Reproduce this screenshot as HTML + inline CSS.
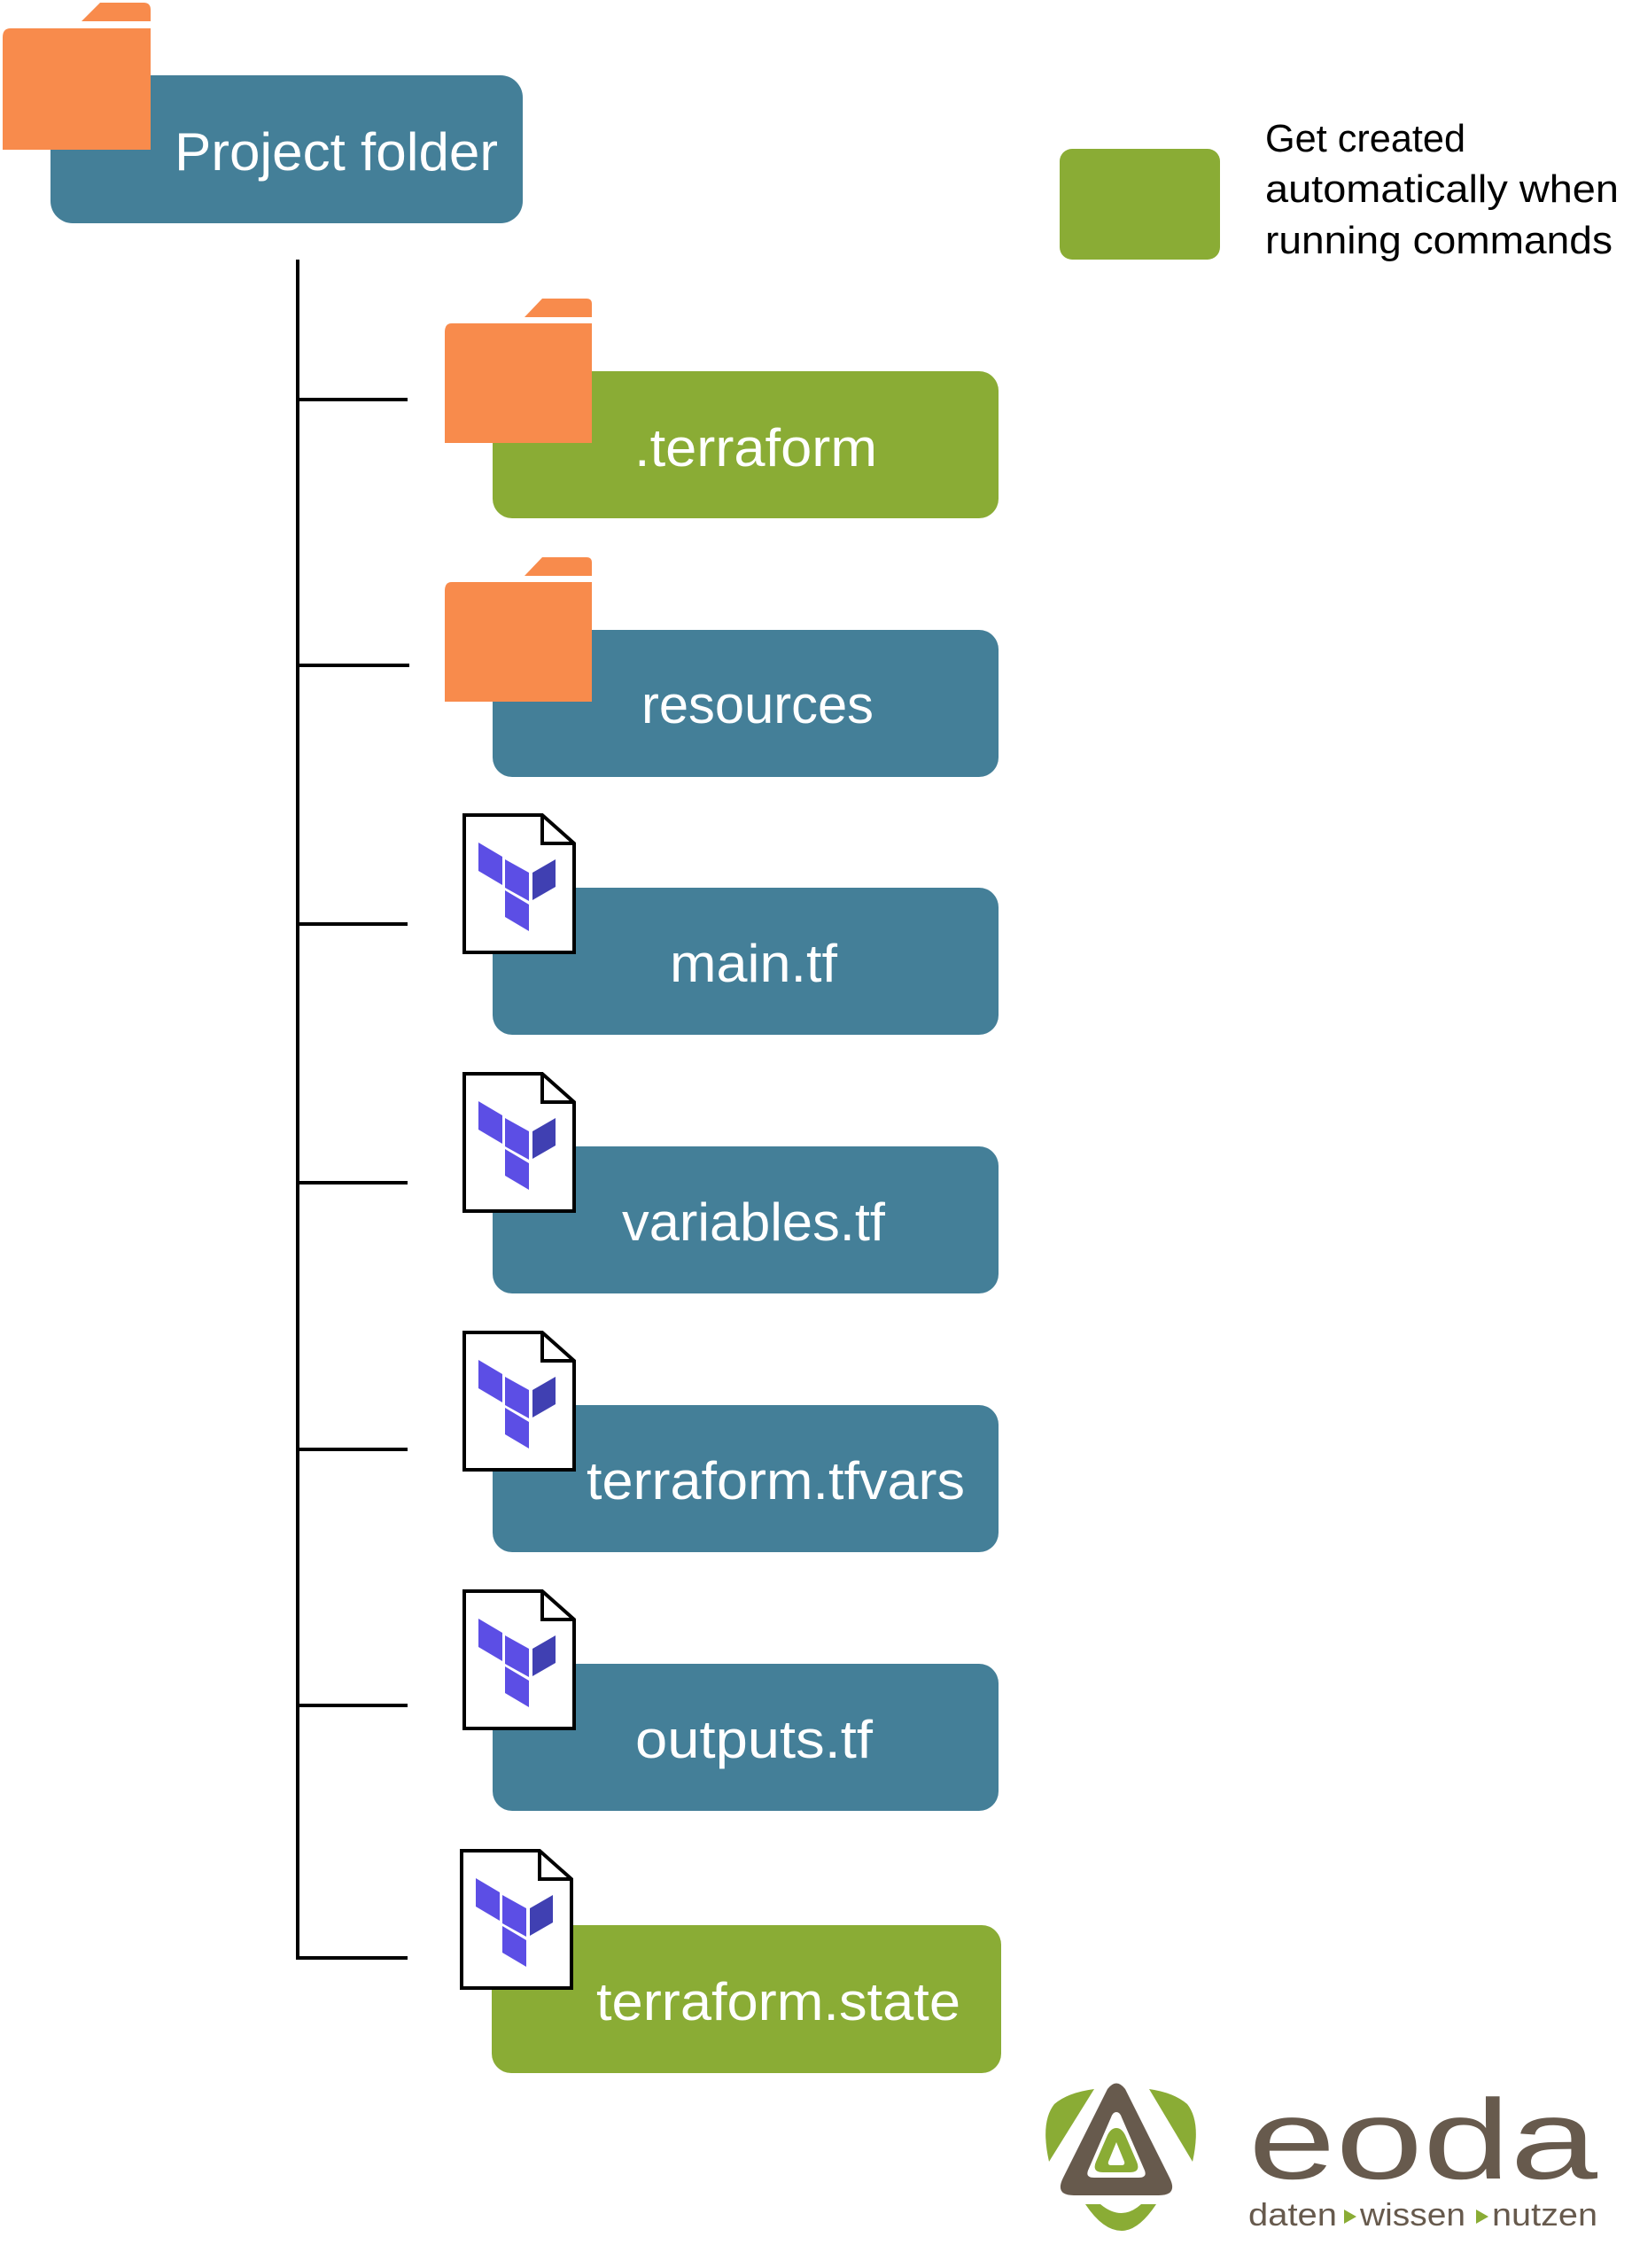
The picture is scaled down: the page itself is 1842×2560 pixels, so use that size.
<!DOCTYPE html>
<html><head><meta charset="utf-8"><style>
html,body{margin:0;padding:0;background:#fff;}
svg{display:block;}
text{font-family:"Liberation Sans",sans-serif;}
</style></head><body>
<svg width="1842" height="2560" viewBox="0 0 1842 2560" xmlns="http://www.w3.org/2000/svg">
<defs>
<g id="tf">
<polygon points="18,33 45,49 45,81 18,65" fill="#5C4EE5"/>
<polygon points="48,52 75,67 75,99 48,84" fill="#5C4EE5"/>
<polygon points="79,67 105,52 105,83 79,98" fill="#4040B2"/>
<polygon points="48,87 75,103 75,133 48,117" fill="#5C4EE5"/>
</g>
<g id="file">
<path d="M2,2 H90 L126,34 V157 H2 Z" fill="#fff" stroke="#000" stroke-width="4"/>
<path d="M90,2 V34 H126" fill="none" stroke="#000" stroke-width="4"/>
<use href="#tf"/>
</g>
<g id="folder">
<path d="M0,29 Q0,19 8,19 H166 V154 H0 Z" fill="#F88B4C"/>
<path d="M90,12 L110,-9 H160 Q166,-9 166,-3 V12 Z" fill="#F88B4C"/>
</g>
</defs>

<rect x="57" y="85" width="533" height="167" rx="25" fill="#447F98"/>
<path d="M3,42 Q3,32 12,32 H170 V169 H3 Z" fill="#F88B4C"/>
<path d="M92,24 L113,3 H162 Q170,3 170,11 V24 Z" fill="#F88B4C"/>
<text x="197" y="192" font-size="60" fill="#fff" textLength="365" lengthAdjust="spacingAndGlyphs">Project folder</text>

<rect x="1196" y="168" width="181" height="125" rx="14" fill="#8AAC35"/>
<text x="1428" y="171" font-size="44" fill="#000" textLength="226" lengthAdjust="spacingAndGlyphs">Get created</text>
<text x="1428" y="228" font-size="44" fill="#000" textLength="399" lengthAdjust="spacingAndGlyphs">automatically when</text>
<text x="1428" y="286" font-size="44" fill="#000" textLength="392" lengthAdjust="spacingAndGlyphs">running commands</text>

<line x1="336" y1="293" x2="336" y2="2212" stroke="#000" stroke-width="4"/>
<g stroke="#000" stroke-width="4">
<line x1="334" y1="451" x2="460" y2="451"/>
<line x1="334" y1="751" x2="462" y2="751"/>
<line x1="334" y1="1043" x2="460" y2="1043"/>
<line x1="334" y1="1335" x2="460" y2="1335"/>
<line x1="334" y1="1636" x2="460" y2="1636"/>
<line x1="334" y1="1925" x2="460" y2="1925"/>
<line x1="334" y1="2210" x2="460" y2="2210"/>
</g>

<rect x="556" y="419" width="571" height="166" rx="22" fill="#8AAC35"/>
<rect x="556" y="711" width="571" height="166" rx="22" fill="#447F98"/>
<rect x="556" y="1002" width="571" height="166" rx="22" fill="#447F98"/>
<rect x="556" y="1294" width="571" height="166" rx="22" fill="#447F98"/>
<rect x="556" y="1586" width="571" height="166" rx="22" fill="#447F98"/>
<rect x="556" y="1878" width="571" height="166" rx="22" fill="#447F98"/>
<rect x="555" y="2173" width="575" height="167" rx="22" fill="#8AAC35"/>

<use href="#folder" x="502" y="346"/>
<use href="#folder" x="502" y="638"/>
<use href="#file" x="522" y="918"/>
<use href="#file" x="522" y="1210"/>
<use href="#file" x="522" y="1502"/>
<use href="#file" x="522" y="1794"/>
<use href="#file" x="519" y="2087"/>

<g fill="#fff" font-size="60">
<text x="716" y="526" textLength="274" lengthAdjust="spacingAndGlyphs">.terraform</text>
<text x="724" y="816" textLength="262" lengthAdjust="spacingAndGlyphs">resources</text>
<text x="756" y="1108" textLength="189" lengthAdjust="spacingAndGlyphs">main.tf</text>
<text x="702" y="1400" textLength="297" lengthAdjust="spacingAndGlyphs">variables.tf</text>
<text x="662" y="1692" textLength="427" lengthAdjust="spacingAndGlyphs">terraform.tfvars</text>
<text x="717" y="1984" textLength="268" lengthAdjust="spacingAndGlyphs">outputs.tf</text>
<text x="673" y="2280" textLength="411" lengthAdjust="spacingAndGlyphs">terraform.state</text>
</g>

<g transform="translate(1180,2340)">
<path d="M55,18 L4,100 Q-6,55 10,35 Q25,22 55,18 Z" fill="#8AAC35"/>
<path d="M117,18 L166,100 Q176,55 160,35 Q145,22 117,18 Z" fill="#8AAC35"/>
<path d="M45,148 H62 Q86,168 108,148 H125 Q105,178 86,178 Q65,178 45,148 Z" fill="#8AAC35"/>
<path d="M70,18 Q80,5 90,18 L140,118 Q150,138 128,138 H32 Q10,138 20,118 Z M80,44 Q76,44 74,50 L48,110 Q45,118 55,118 H105 Q115,118 112,110 L86,50 Q84,44 80,44 Z" fill="#675A4D" fill-rule="evenodd"/>
<path d="M80,62 Q86,62 90,70 L103,100 Q108,112 95,112 H65 Q52,112 57,100 L70,70 Q74,62 80,62 Z M80,78 L71,100 Q70,104 74,104 H86 Q90,104 89,100 Z" fill="#8AAC35" fill-rule="evenodd"/>
</g>
<text x="1409" y="2459" font-size="128" fill="#675A4D" textLength="394" lengthAdjust="spacingAndGlyphs">eoda</text>
<text x="1409" y="2512" font-size="36" fill="#675A4D" textLength="100" lengthAdjust="spacingAndGlyphs">daten</text>
<polygon points="1517,2494 1531,2502 1517,2510" fill="#8AAC35"/>
<text x="1535" y="2512" font-size="36" fill="#675A4D" textLength="119" lengthAdjust="spacingAndGlyphs">wissen</text>
<polygon points="1666,2494 1680,2502 1666,2510" fill="#8AAC35"/>
<text x="1684" y="2512" font-size="36" fill="#675A4D" textLength="119" lengthAdjust="spacingAndGlyphs">nutzen</text>
</svg>
</body></html>
